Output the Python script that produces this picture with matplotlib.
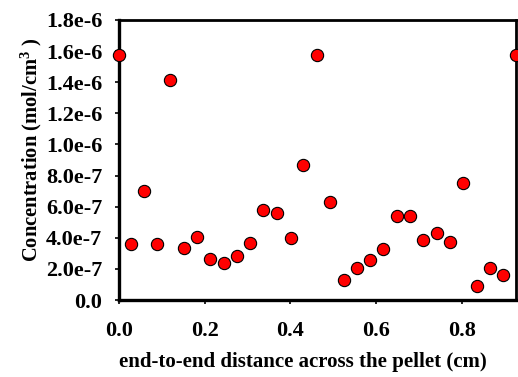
import matplotlib
matplotlib.use("Agg")
import matplotlib.pyplot as plt
from matplotlib.ticker import FuncFormatter

# distance across the pellet (cm)
distance = [0.000, 0.028, 0.058, 0.089, 0.120, 0.151, 0.182, 0.213, 0.245, 0.275,
            0.306, 0.336, 0.368, 0.401, 0.430, 0.462, 0.492, 0.525, 0.555, 0.586,
            0.616, 0.648, 0.679, 0.710, 0.742, 0.772, 0.803, 0.835, 0.866, 0.896,
            0.926]
# concentration (mol/cm3)
concentration = [1.575e-6, 0.36e-6, 0.70e-6, 0.36e-6, 1.414e-6, 0.334e-6, 0.405e-6,
                 0.264e-6, 0.238e-6, 0.283e-6, 0.366e-6, 0.58e-6, 0.56e-6, 0.40e-6,
                 0.868e-6, 1.575e-6, 0.63e-6, 0.129e-6, 0.206e-6, 0.257e-6,
                 0.328e-6, 0.54e-6, 0.54e-6, 0.386e-6, 0.43e-6, 0.373e-6,
                 0.752e-6, 0.09e-6, 0.206e-6, 0.16e-6, 1.575e-6]

x_ticks = [0.0, 0.2, 0.4, 0.6, 0.8]
y_ticks = [0.0, 2e-7, 4e-7, 6e-7, 8e-7, 1e-6, 1.2e-6, 1.4e-6, 1.6e-6, 1.8e-6]

plt.rcParams['font.family'] = ['Liberation Serif', 'DejaVu Serif']
plt.rcParams['font.weight'] = 'bold'
plt.rcParams['mathtext.fontset'] = 'custom'
plt.rcParams['mathtext.rm'] = 'Liberation Serif:bold'
plt.rcParams['mathtext.bf'] = 'Liberation Serif:bold'
plt.rcParams['mathtext.default'] = 'bf'

fig = plt.figure(figsize=(5.18, 3.77), dpi=100)
ax = fig.add_axes([0.2297, 0.204, 0.766, 0.743])

ax.scatter(distance, concentration, s=78, c='#ff0000', edgecolors='black',
           linewidths=0.8, clip_on=False, zorder=5)

ax.set_xlim(0, 0.926)
ax.set_ylim(0, 1.8e-6)
ax.set_xticks(x_ticks)
ax.set_yticks(y_ticks)


def yfmt(v, pos):
    if v == 0:
        return '0.0'
    s = '%.1e' % v
    mant, exp = s.split('e')
    return '%se%d' % (mant, int(exp))


ax.yaxis.set_major_formatter(FuncFormatter(yfmt))
ax.xaxis.set_major_formatter(FuncFormatter(lambda v, p: '%.1f' % v))

for side in ['left', 'bottom']:
    ax.spines[side].set_linewidth(2.4)
for side in ['top', 'right']:
    ax.spines[side].set_linewidth(2.0)

ax.tick_params(axis='x', direction='out', length=3, width=1.2, pad=12, labelsize=16)
ax.tick_params(axis='y', direction='out', length=3, width=1.2, pad=9, labelsize=16)

ax.set_xlabel('end-to-end distance across the pellet (cm)', fontsize=15,
              fontweight='bold')
ax.set_ylabel('Concentration (mol/cm$^3$ )', fontsize=14.8, fontweight='bold')
ax.xaxis.set_label_coords(0.464, -0.185)
ax.yaxis.set_label_coords(-0.19, 0.536)

fig.savefig('out.png', dpi=100)
